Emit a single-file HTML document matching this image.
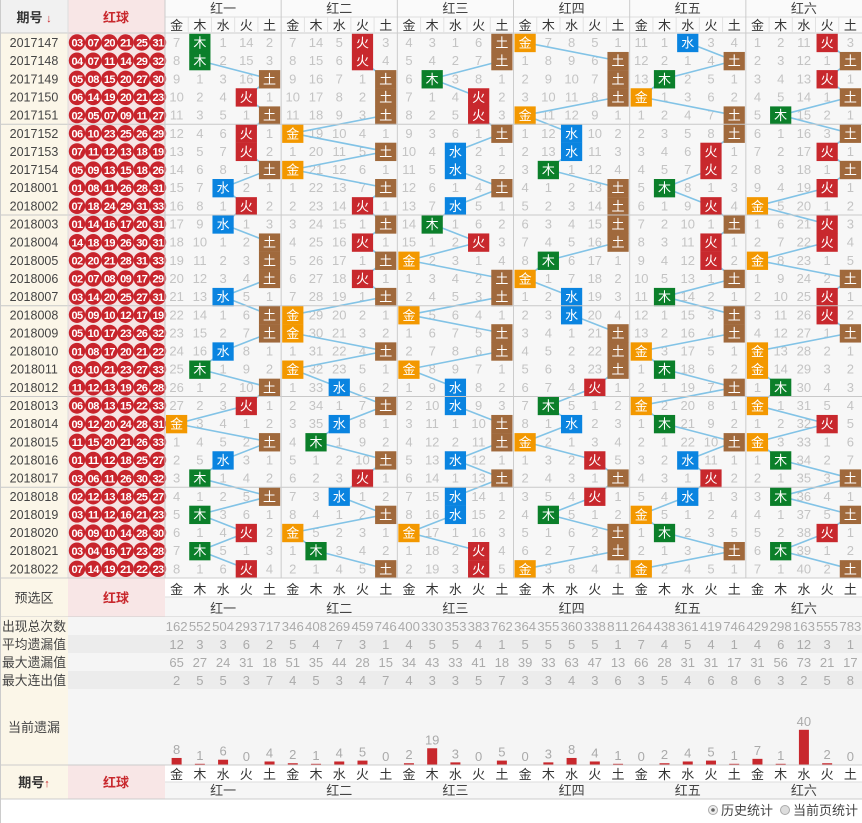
<!DOCTYPE html>
<html><head><meta charset="utf-8">
<style>
html,body{margin:0;padding:0;background:#fff;}
svg{display:block;font-family:"Liberation Sans","Noto Sans CJK SC",sans-serif;}
</style></head><body>
<svg id="s" width="862" height="823" xmlns="http://www.w3.org/2000/svg"></svg>
<script>
var S=document.getElementById('s'),h='';
function R(x,y,w,ht,f,extra){h+='<rect x="'+x+'" y="'+y+'" width="'+w+'" height="'+ht+'" fill="'+f+'" '+(extra||'')+'/>';}
function T(x,y,t,sz,c,extra){h+='<text x="'+x+'" y="'+y+'" font-size="'+sz+'" fill="'+c+'" text-anchor="middle" '+(extra||'')+'>'+t+'</text>';}
function L(x1,y1,x2,y2,c,w){h+='<line x1="'+x1+'" y1="'+y1+'" x2="'+x2+'" y2="'+y2+'" stroke="'+c+'" stroke-width="'+(w||1)+'"/>';}
var G0=165,GW=(862-165)/6,SW=GW/5,RH=18.15,TOP=33.5;
var EL=['金','木','水','火','土'],COL=['#f39800','#0b7f2a','#0a84e0','#c8282d','#a0693c'];
var GN=['红一','红二','红三','红四','红五','红六'];
var hits=[
[1,1,4,3,4,3,3,4,2,3,2,4,4,4,2,4,4,2,1,4,3,0,4,2,1,4,1,3,1,3],
[3,3,4,4,4,0,4,0,4,3,4,3,4,3,4,0,0,4,0,2,4,2,1,4,3,2,4,0,1,4],
[4,4,1,3,3,4,2,2,4,2,1,3,0,4,4,0,4,4,0,2,2,4,4,2,4,2,2,0,3,3],
[0,4,4,4,0,2,2,1,4,4,4,4,1,0,2,2,4,4,4,3,1,2,0,3,4,3,1,4,4,0],
[2,4,1,0,4,4,3,3,1,3,4,3,3,4,1,4,4,0,1,4,0,1,4,2,3,2,0,1,4,0],
[3,4,3,4,1,4,3,4,3,0,3,3,0,4,3,3,4,0,0,1,0,3,0,1,4,1,4,3,1,4]];
var first=[[7,0,1,14,2],[7,14,5,0,3],[4,3,1,6,0],[0,7,8,5,1],[11,1,0,3,4],[1,2,11,0,3]];
var per=[];for(var i=147;i<=154;i++)per.push('2017'+i);for(i=1;i<=22;i++)per.push('2018'+(i<10?'00':'0')+i);
var balls=['03 07 20 21 25 31','04 07 11 14 29 32','05 08 15 20 27 30','06 14 19 20 21 23','02 05 07 09 11 27','06 10 23 25 26 29','07 11 12 13 18 19','05 09 13 15 18 26','01 08 11 26 28 31','07 18 24 29 31 33','01 14 16 17 20 31','14 18 19 26 30 31','02 20 21 28 31 33','02 07 08 09 17 29','03 14 20 25 27 31','05 09 10 12 17 19','05 10 17 23 26 32','01 08 17 20 21 22','03 10 21 23 27 33','11 12 13 19 26 28','06 08 13 15 22 33','09 12 20 24 28 31','11 15 20 21 26 33','01 11 12 18 25 27','03 06 11 26 30 32','02 12 13 18 25 27','03 11 12 16 21 23','06 09 10 14 28 30','03 04 16 17 23 28','07 14 19 21 22 23'];
R(0,0,862,823,'#fff');
R(0,0,68,33,'#f1f1f1');R(68,0,97,33,'#f8e6e6');R(165,0,697,33,'#fafafa');
R(0,33,68,545,'#fbf6e8');R(68,33,97,545,'#f6e4e4');R(165,33,697,545,'#f7f7f7');
T(34,22,'期号 <tspan fill="#c8282d" font-size="11">↓</tspan>',13,'#333','font-weight="bold"');
T(116,22,'红球',13,'#c8282d','font-weight="bold"');
for(var g=0;g<6;g++){var gx=G0+g*GW;T(gx+GW/2,13,GN[g],13,'#444');
 for(var k=0;k<5;k++)T(gx+k*SW+SW/2,30,EL[k],13,'#333');}
L(165,17,862,17,'#ddd');L(0,33,862,33,'#ccc');
for(var r=0;r<30;r++){var y=TOP+r*RH;T(34,y+13.5,per[r],12.5,'#444');
 var b=balls[r].split(' ');for(var j=0;j<6;j++){var cx=77+j*16.2;h+='<circle cx="'+cx+'" cy="'+(y+9)+'" r="8.2" fill="#c8242c"/>';
 T(cx,y+13.2,b[j],11,'#fff','font-weight="bold" letter-spacing="-0.6"');}}
var lines='',boxes='',nums='';
for(g=0;g<6;g++){var gx=G0+g*GW;var m=first[g].slice();for(k=0;k<5;k++)m[k]-=1;
 for(r=0;r<30;r++){var y=TOP+r*RH,hk=hits[g][r];
  for(k=0;k<5;k++){if(k==hk){m[k]=0;}else{m[k]++;nums+='<text x="'+(gx+k*SW+SW/2)+'" y="'+(y+13.5)+'" font-size="13" fill="#c4c4c4" text-anchor="middle">'+m[k]+'</text>';}}
  var bx=gx+hk*SW+1;boxes+='<rect x="'+bx+'" y="'+(y+0.3)+'" width="'+(SW-2)+'" height="'+(RH+0.2)+'" fill="'+COL[hk]+'"/><text x="'+(bx+SW/2-1)+'" y="'+(y+14)+'" font-size="13" fill="#fff" text-anchor="middle">'+EL[hk]+'</text>';
  if(r<29){var nk=hits[g][r+1];lines+='<line x1="'+(gx+hk*SW+SW/2)+'" y1="'+(y+RH/2)+'" x2="'+(gx+nk*SW+SW/2)+'" y2="'+(y+RH*1.5)+'" stroke="#82c3e6" stroke-width="1.6"/>';}
 }
 first[g]=m.slice();first[g].hk=hits[g][29];
}
h+=nums+lines+boxes;
for(r=5;r<30;r+=5)L(0,TOP+r*RH,862,TOP+r*RH,'#c8c8c8');
L(68,0,68,799,'#ddd');L(165,0,165,799,'#ccc');
for(g=1;g<6;g++)L(G0+g*GW,0,G0+g*GW,799,'#ccc');
for(g=0;g<6;g++)for(k=1;k<5;k++){var xx=G0+g*GW+k*SW;L(xx,17,xx,33,'#e2e2e2');L(xx,578,xx,597,'#e2e2e2');L(xx,765,xx,782,'#e2e2e2');}
function bhead(y1,y2,y3,lab,labc){R(0,y1,68,y3-y1,'#fbf6e8');R(68,y1,97,y3-y1,'#f8e6e6');R(165,y1,697,y2-y1,'#fff');R(165,y2,697,y3-y2,'#f6f6f6');
 L(0,y1,862,y1,'#ccc');L(165,y2,862,y2,'#ddd');L(0,y3,862,y3,'#ccc');
 T(34,(y1+y3)/2+5,lab,13,labc,labc=='#333'?'font-weight="bold"':'');T(116,(y1+y3)/2+5,'红球',13,'#c8282d','font-weight="bold"');
 for(var g=0;g<6;g++){var gx=G0+g*GW;T(gx+GW/2,y3-4,GN[g],13,'#444');for(var k=0;k<5;k++)T(gx+k*SW+SW/2,y2-3,EL[k],13,'#333');}}
bhead(578,597,617,'预选区','#444');
var st=[['出现总次数',[162,552,504,293,717,346,408,269,459,746,400,330,353,383,762,364,355,360,338,811,264,438,361,419,746,429,298,163,555,783]],
['平均遗漏值',[12,3,3,6,2,5,4,7,3,1,4,5,5,4,1,5,5,5,5,1,7,4,5,4,1,4,6,12,3,1]],
['最大遗漏值',[65,27,24,31,18,51,35,44,28,15,34,43,33,41,18,39,33,63,47,13,66,28,31,31,17,31,56,73,21,17]],
['最大连出值',[2,5,5,3,7,4,5,3,4,7,4,3,3,5,7,3,3,4,3,6,3,5,4,6,8,6,3,2,5,8]]];
for(var s=0;s<4;s++){var y=617+s*18;R(0,y,68,18,'#fbf6e8');R(68,y,794,18,s%2?'#ececec':'#f5f5f5');
 h+='<text x="2" y="'+(y+14)+'" font-size="13" fill="#444" textLength="64" lengthAdjust="spacingAndGlyphs">'+st[s][0]+'</text>';
 for(i=0;i<30;i++)T(G0+i*SW+SW/2,y+14,st[s][1][i],13,'#aaa',st[s][1][i]>99?'textLength="22" lengthAdjust="spacingAndGlyphs"':'');}
R(0,689,68,76,'#fbf6e8');R(68,689,794,76,'#f5f5f5');T(34,732,'当前遗漏',13,'#444');
for(g=0;g<6;g++)for(k=0;k<5;k++){var v=(k==first[g].hk)?0:first[g][k];var cx=G0+g*GW+k*SW+SW/2;var bh=v*0.88;
 if(v>0){R(cx-5,765-Math.max(bh,1.2),10,Math.max(bh,1.2),'#c8282d');}
 T(cx,765-Math.max(bh,0)-4,v,13,'#aaa');}
bhead(765,782,799,'期号<tspan fill="#c8282d" font-size="11">↑</tspan>','#333');
L(0.5,0,0.5,823,'#ccc');
h+='<circle cx="713" cy="810" r="4.5" fill="#eee" stroke="#aaa"/><circle cx="713" cy="810" r="1.8" fill="#666"/>';
h+='<text x="721" y="815" font-size="13" fill="#444">历史统计</text>';
h+='<circle cx="785" cy="810" r="4.5" fill="#ddd" stroke="#aaa"/><text x="793" y="815" font-size="13" fill="#444">当前页统计</text>';
S.innerHTML=h;
</script>
</body></html>
